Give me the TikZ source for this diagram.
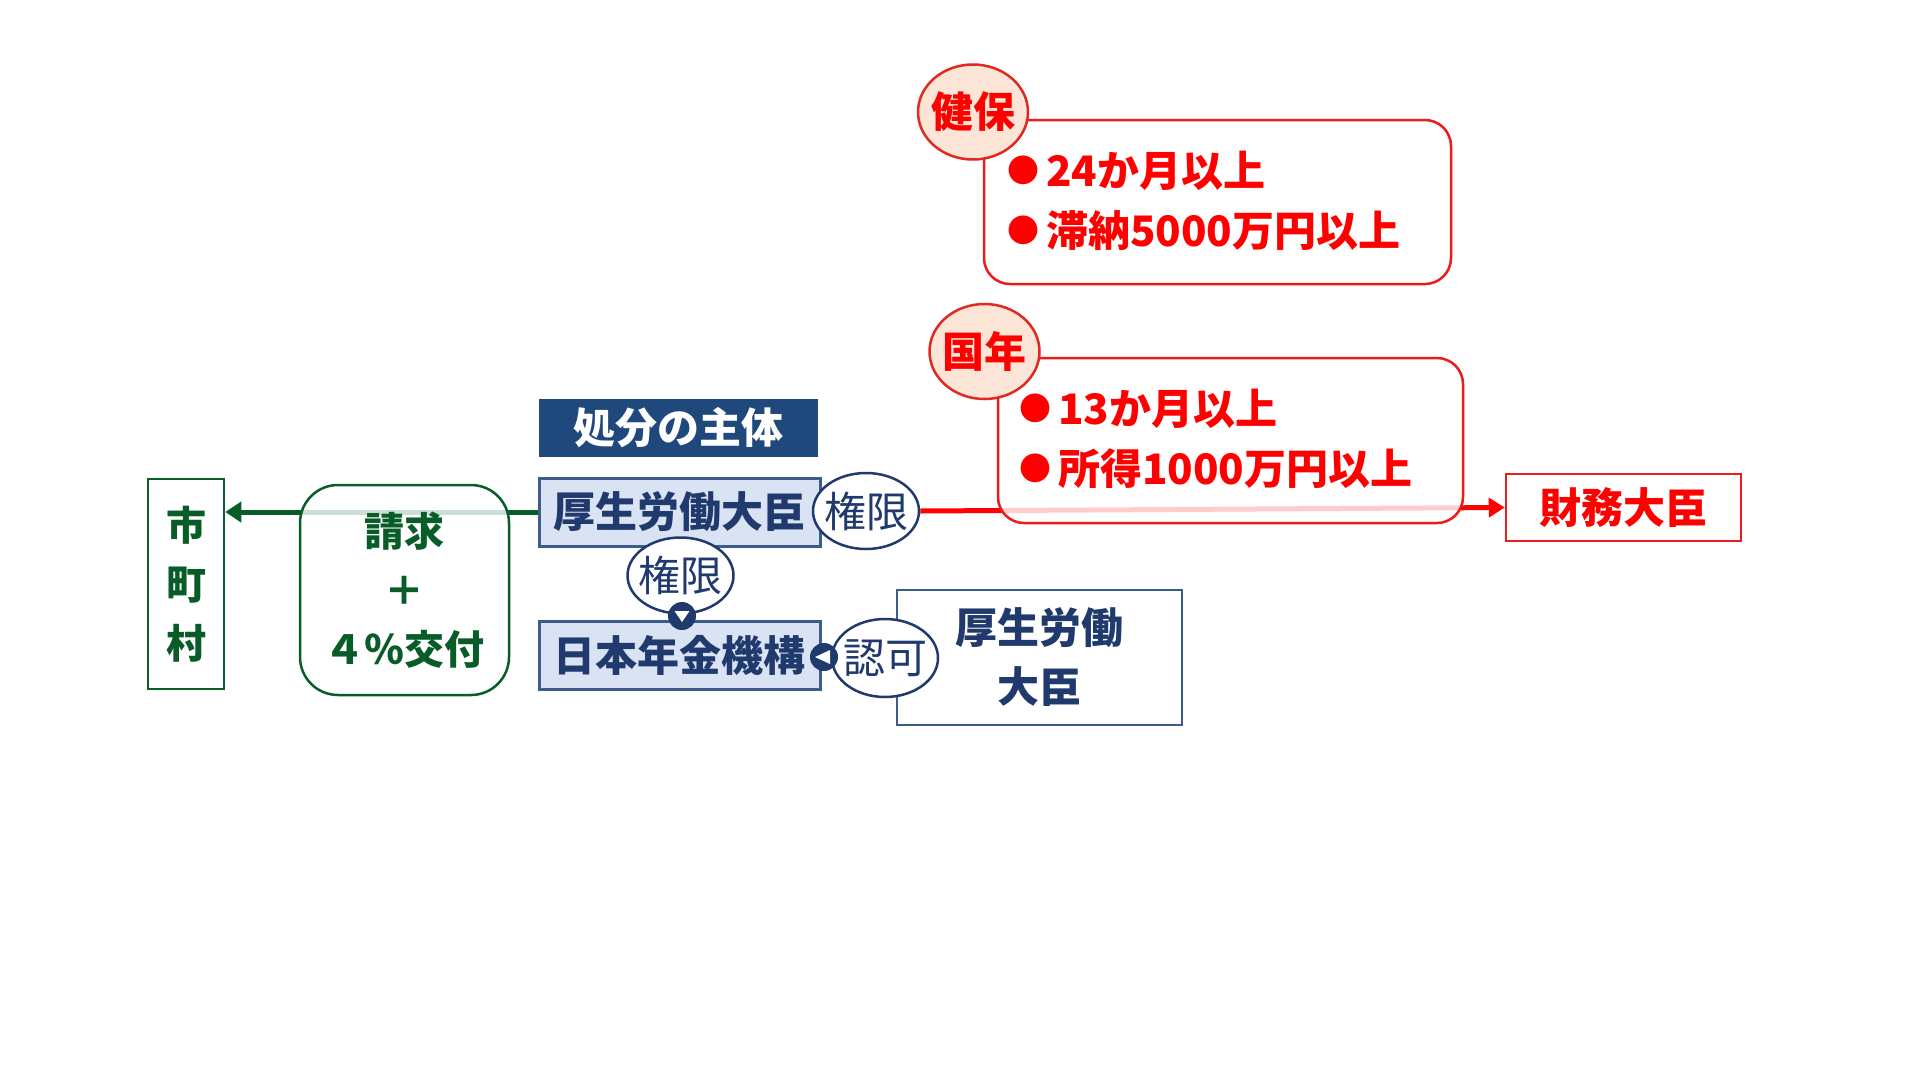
\documentclass[tikz,border=0pt]{standalone}
\usepackage{fontspec}
\setmainfont{Noto Sans CJK JP}
\usetikzlibrary{shapes.geometric,arrows.meta}
\definecolor{navy}{RGB}{32,58,110}
\definecolor{boxline}{RGB}{60,92,142}
\definecolor{boxfill}{RGB}{218,227,243}
\definecolor{headfill}{RGB}{31,73,125}
\definecolor{dkgreen}{RGB}{8,92,40}
\definecolor{redline}{RGB}{236,28,28}
\definecolor{tagfill}{RGB}{252,228,214}
\definecolor{tagline}{RGB}{222,42,32}
\newcommand\jpbig{\fontsize{42pt}{59pt}\selectfont}
\newcommand\tighttext[1]{\makebox[0pt]{#1}}
\newcommand\redbullet{\raisebox{4pt}{\fontsize{32pt}{32pt}\selectfont ●}\hspace{7pt}}
\tikzset{
  bluebox/.style={draw=boxline,fill=boxfill,line width=3pt,text=navy,font=\jpbig\bfseries,
    minimum width=281pt,minimum height=68pt,inner sep=0pt},
  headbox/.style={fill=headfill,text=white,font=\jpbig\bfseries,minimum width=279pt,minimum height=58pt,inner sep=0pt},
  plainbox/.style={draw=boxline,fill=white,line width=2.5pt,text=navy,font=\jpbig\bfseries,align=center,inner sep=0pt},
  tagellipse/.style={ellipse,draw=navy,fill=white,line width=2.5pt,text=navy,font=\jpbig,
    minimum width=106pt,minimum height=76pt,inner sep=0pt},
  marker/.style={circle,fill=navy,minimum size=28pt,inner sep=0pt},
  greenbox/.style={draw=dkgreen,line width=2.5pt,text=dkgreen,font=\fontsize{40pt}{59pt}\selectfont\bfseries,
    align=center,inner sep=0pt},
  redbox/.style={draw=redline,line width=2.5pt,fill=white,rounded corners=26pt,inner sep=0pt},
  redtag/.style={ellipse,draw=tagline,fill=tagfill,line width=2.5pt,text=red,font=\jpbig\bfseries,
    minimum width=110pt,minimum height=95pt,inner sep=0pt},
  redtext/.style={text=red,font=\jpbig\bfseries,anchor=west,inner sep=0pt},
  greenline/.style={draw=dkgreen,line width=5pt,-{Triangle[length=16pt,width=20pt]}},
  redarrow/.style={draw=red,line width=5pt,-{Triangle[length=16pt,width=19pt]}}
}
\begin{document}
\begin{tikzpicture}[x=1pt,y=-1pt]
\useasboundingbox[fill=white] (0,0) rectangle (1920,1080);
\node[greenbox,minimum width=76pt,minimum height=210pt] (shi) at (186,584) {市\\町\\村};
\node[headbox] (head) at (678.5,428) {処分の主体};
\node[bluebox] (mhlw) at (679.5,512) {厚生労働大臣};
\node[bluebox] (nenkin) at (679.5,655) {日本年金機構};
\draw[greenline] (mhlw.west) -- (mhlw.west -| shi.east);
\node[greenbox,fill=white,fill opacity=0.8,text opacity=1,rounded corners=38pt,
  minimum width=209pt,minimum height=210pt] (req) at (404.5,590) {請求\\＋\\４％交付};
\node[plainbox,minimum width=285pt,minimum height=135pt] (mhlw2) at (1039.5,657.5) {厚生労働\\大臣};
\node[tagellipse] (kengenA) at (866,511) {\tighttext{権限}};
\node[tagellipse] (kengenB) at (680.5,575.5) {\tighttext{権限}};
\node[tagellipse,minimum height=78pt] (ninka) at (885,658) {\tighttext{認可}};
\node[draw=redline,line width=2.5pt,fill=white,text=red,font=\jpbig\bfseries,
  minimum width=235pt,minimum height=67pt,inner sep=0pt] (zaimu) at (1623.5,507.5) {財務大臣};
\draw[redarrow] (kengenA.east) -- (zaimu.west);
\node[redbox,minimum width=467pt,minimum height=164pt] (kenpo) at (1217.5,202) {};
\node[redbox,fill opacity=0.8,minimum width=465pt,minimum height=165pt] (kokunen) at (1230.5,440.5) {};
\node[redtag] (kenpoTag) at (973,112) {\tighttext{健保}};
\node[redtag] (kokunenTag) at (984.5,351.5) {\tighttext{国年}};
\node[redtext] (kenpoA) at (1007,171) {\redbullet 24か月以上};
\node[redtext] (kenpoB) at (1007,231) {\redbullet 滞納5000万円以上};
\node[redtext] (kokunenA) at (1019,409) {\redbullet 13か月以上};
\node[redtext] (kokunenB) at (1019,469) {\redbullet 所得1000万円以上};
\node[marker] (mkB) at (682,616) {};
\fill[white] (mkB.center) ++(-7.5,-5) -- ++(15,0) -- ++(-7.5,11) -- cycle;
\node[marker] (mkC) at (824,657) {};
\fill[white] (mkC.center) ++(6,-7) -- ++(0,14) -- ++(-15,-7) -- cycle;
\end{tikzpicture}
\end{document}
